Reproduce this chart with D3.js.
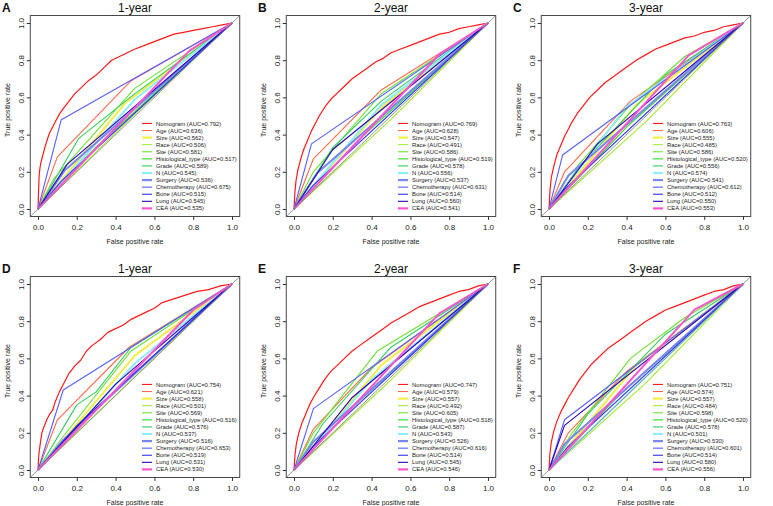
<!DOCTYPE html>
<html><head><meta charset="utf-8">
<script src="https://cdn.jsdelivr.net/npm/d3@7/dist/d3.min.js"></script>
<style>body{margin:0;background:#fff}svg{display:block;font-family:"Liberation Sans",Arial,Helvetica,sans-serif}</style>
</head><body><svg id="c" width="773" height="506"></svg>
<script>
// ---------- data ----------
const panelLetters = ["A","B","C","D","E","F"];
const panelTitles = ["1-year","2-year","3-year","1-year","2-year","3-year"];
const seriesNames = ["Nomogram","Age","Size","Race","Site","Histological_type","Grade","N","Surgery","Chemotherapy","Bone","Lung","CEA"];
const axisTicks = [0,0.2,0.4,0.6,0.8,1.0];

const aucA = [0.792,0.636,0.562,0.506,0.581,0.517,0.589,0.545,0.536,0.675,0.515,0.545,0.535];
const aucB = [0.769,0.628,0.547,0.491,0.586,0.519,0.578,0.556,0.537,0.631,0.514,0.560,0.541];
const aucC = [0.763,0.606,0.555,0.485,0.586,0.520,0.556,0.574,0.541,0.612,0.512,0.550,0.553];
const aucD = [0.754,0.621,0.558,0.501,0.569,0.516,0.576,0.537,0.516,0.653,0.519,0.531,0.530];
const aucE = [0.747,0.579,0.557,0.492,0.605,0.518,0.587,0.543,0.526,0.616,0.514,0.545,0.546];
const aucF = [0.751,0.574,0.557,0.484,0.598,0.520,0.578,0.501,0.530,0.601,0.514,0.580,0.556];

// Nomogram ROC points [FPR, TPR]
const nomoA = [[0,0],[0.003,0.1],[0.006,0.18],[0.01,0.22],[0.015,0.25],[0.025,0.29],[0.035,0.33],[0.05,0.38],[0.06,0.41],[0.075,0.44],[0.09,0.47],[0.11,0.51],[0.13,0.54],[0.16,0.58],[0.19,0.62],[0.22,0.65],[0.26,0.69],[0.3,0.72],[0.34,0.76],[0.38,0.8],[0.42,0.82],[0.46,0.84],[0.5,0.86],[0.55,0.88],[0.6,0.9],[0.65,0.92],[0.7,0.94],[0.75,0.95],[0.8,0.96],[0.85,0.97],[0.9,0.98],[0.95,0.99],[1,1]];
const nomoB = [[0,0],[0.004,0.08],[0.01,0.15],[0.02,0.21],[0.035,0.27],[0.05,0.32],[0.07,0.37],[0.09,0.42],[0.11,0.46],[0.13,0.5],[0.16,0.55],[0.19,0.59],[0.22,0.62],[0.26,0.66],[0.3,0.7],[0.34,0.73],[0.38,0.76],[0.42,0.79],[0.46,0.81],[0.5,0.84],[0.55,0.86],[0.6,0.88],[0.65,0.9],[0.7,0.92],[0.75,0.94],[0.8,0.95],[0.85,0.97],[0.9,0.98],[0.95,0.99],[1,1]];
const nomoC = [[0,0],[0.005,0.1],[0.012,0.17],[0.025,0.23],[0.04,0.29],[0.06,0.34],[0.08,0.39],[0.1,0.43],[0.12,0.47],[0.15,0.52],[0.18,0.56],[0.21,0.6],[0.25,0.64],[0.29,0.68],[0.33,0.71],[0.37,0.74],[0.41,0.77],[0.45,0.8],[0.5,0.83],[0.55,0.86],[0.6,0.88],[0.65,0.9],[0.7,0.92],[0.75,0.93],[0.8,0.95],[0.85,0.96],[0.9,0.98],[0.95,0.99],[1,1]];
const nomoD = [[0,0],[0.004,0.08],[0.01,0.13],[0.02,0.2],[0.03,0.23],[0.045,0.27],[0.06,0.3],[0.075,0.32],[0.09,0.37],[0.11,0.42],[0.13,0.46],[0.16,0.52],[0.19,0.56],[0.22,0.59],[0.25,0.64],[0.28,0.67],[0.32,0.7],[0.36,0.74],[0.4,0.76],[0.44,0.78],[0.48,0.81],[0.52,0.83],[0.56,0.85],[0.6,0.87],[0.64,0.9],[0.7,0.92],[0.76,0.94],[0.82,0.96],[0.88,0.97],[0.94,0.99],[1,1]];
const nomoE = [[0,0],[0.005,0.08],[0.012,0.14],[0.025,0.2],[0.04,0.25],[0.06,0.3],[0.08,0.35],[0.1,0.39],[0.13,0.44],[0.16,0.49],[0.19,0.53],[0.22,0.56],[0.26,0.6],[0.3,0.64],[0.34,0.67],[0.38,0.7],[0.42,0.73],[0.46,0.76],[0.5,0.79],[0.55,0.82],[0.6,0.85],[0.65,0.88],[0.7,0.9],[0.75,0.92],[0.8,0.94],[0.85,0.96],[0.9,0.97],[0.95,0.99],[1,1]];
const nomoF = [[0,0],[0.005,0.09],[0.012,0.15],[0.025,0.21],[0.04,0.26],[0.06,0.31],[0.08,0.35],[0.1,0.39],[0.13,0.44],[0.16,0.49],[0.19,0.53],[0.22,0.57],[0.26,0.61],[0.3,0.65],[0.34,0.68],[0.38,0.71],[0.42,0.74],[0.46,0.77],[0.5,0.8],[0.55,0.83],[0.6,0.86],[0.65,0.88],[0.7,0.9],[0.75,0.92],[0.8,0.94],[0.85,0.96],[0.9,0.97],[0.95,0.99],[1,1]];

// Inner ROC points of the single-variable curves (Age ... CEA); (0,0) and (1,1) are the ROC ends
const knotsA = [[[0.1,0.28],[0.48,0.69]],[[0.45,0.57]],[[0.5,0.512]],[[0.08,0.16],[0.5,0.65]],[[0.3,0.334]],[[0.21,0.38],[0.5,0.62]],[[0.5,0.59]],[[0.14,0.21]],[[0.12,0.48]],[[0.12,0.15]],[[0.15,0.24]],[[0.78,0.85]]];
const knotsB = [[[0.1,0.27],[0.45,0.64]],[[0.45,0.545]],[[0.5,0.482]],[[0.1,0.2],[0.45,0.62]],[[0.35,0.388]],[[0.2,0.33],[0.45,0.58]],[[0.45,0.56]],[[0.12,0.194]],[[0.09,0.35]],[[0.1,0.128]],[[0.2,0.32]],[[0.75,0.832]]];
const knotsC = [[[0.08,0.2],[0.42,0.58]],[[0.45,0.56]],[[0.5,0.47]],[[0.08,0.15],[0.42,0.56],[0.7,0.82]],[[0.4,0.44]],[[0.15,0.22],[0.6,0.72]],[[0.4,0.55]],[[0.1,0.18]],[[0.07,0.29]],[[0.08,0.104]],[[0.25,0.35]],[[0.72,0.826]]];
const knotsD = [[[0.1,0.27],[0.47,0.66]],[[0.5,0.616]],[[0.5,0.502]],[[0.13,0.18],[0.48,0.64]],[[0.3,0.33]],[[0.2,0.35],[0.3,0.42],[0.48,0.66]],[[0.5,0.574]],[[0.13,0.162]],[[0.13,0.43]],[[0.2,0.238]],[[0.4,0.462]],[[0.8,0.86]]];
const knotsE = [[[0.1,0.22],[0.4,0.55]],[[0.45,0.564]],[[0.5,0.484]],[[0.1,0.2],[0.43,0.64]],[[0.3,0.336]],[[0.15,0.25],[0.5,0.66]],[[0.4,0.486]],[[0.1,0.152]],[[0.1,0.33]],[[0.1,0.128]],[[0.3,0.39]],[[0.75,0.842]]];
const knotsF = [[[0.1,0.2],[0.4,0.53]],[[0.45,0.564]],[[0.5,0.468]],[[0.12,0.2],[0.42,0.6],[0.7,0.82]],[[0.35,0.39]],[[0.2,0.3],[0.6,0.73]],[[0.5,0.502]],[[0.08,0.14]],[[0.08,0.27]],[[0.1,0.128]],[[0.08,0.24]],[[0.75,0.862]]];

// ---------- styles ----------
const seriesColors = ["#ff1a1a","#ff6a4a","#f2ee4a","#a6ea38","#6ee034","#22dd22","#30cc60","#8eeefa","#7a86ee","#5560ff","#3030ee","#2a00b8","#ff55cc"];
const seriesWidths = [1.2,1.1,2,1.1,1.1,1.1,1.1,2,2,1.1,1.1,1.1,2];

const aucs = [aucA,aucB,aucC,aucD,aucE,aucF];
const nomos = [nomoA,nomoB,nomoC,nomoD,nomoE,nomoF];
const knots = [knotsA,knotsB,knotsC,knotsD,knotsE,knotsF];
const colX = [0,256,511];
const rowY = [0,261];

const svg = d3.select("#c");
const fmt = d3.format(".1f");
const aucFmt = d3.format(".3f");

for (let p = 0; p < 6; p++) {
  const g = svg.append("g").attr("transform", `translate(${colX[p%3]},${rowY[Math.floor(p/3)]})`);
  const x = d3.scaleLinear().domain([0,1]).range([38,232]);
  const y = d3.scaleLinear().domain([0,1]).range([209,23]);
  const lo = -0.04, hi = 1.04;
  const bx0 = x(lo), bx1 = x(hi), by0 = y(hi), by1 = y(lo);

  const clipId = "clip" + p;
  g.append("clipPath").attr("id", clipId).append("rect")
    .attr("x", bx0).attr("y", by0).attr("width", bx1-bx0).attr("height", by1-by0);

  const line = d3.line().x(d => x(d[0])).y(d => y(d[1]));
  const plot = g.append("g").attr("clip-path", `url(#${clipId})`);

  const curves = [nomos[p]].concat(knots[p].map(k => [[0,0]].concat(k, [[1,1]])));
  curves.forEach((pts, i) => {
    plot.append("path").datum(pts).attr("d", line)
      .attr("fill","none").attr("stroke", seriesColors[i])
      .attr("stroke-width", seriesWidths[i]).attr("stroke-linejoin","round");
  });
  plot.append("path").datum([[lo,lo],[hi,hi]]).attr("d", line)
    .attr("fill","none").attr("stroke","#888").attr("stroke-width",0.9);

  g.append("rect").attr("x", bx0).attr("y", by0).attr("width", bx1-bx0).attr("height", by1-by0)
    .attr("fill","none").attr("stroke","#333").attr("stroke-width",0.9);

  const xa = g.append("g").attr("transform", `translate(0,${by1})`)
    .call(d3.axisBottom(x).tickValues(axisTicks).tickFormat(fmt).tickSize(3.5).tickPadding(4));
  xa.select(".domain").remove();
  xa.selectAll("line").attr("stroke","#333");
  xa.selectAll("text").attr("font-size",8).attr("fill","#222").attr("font-family","Liberation Sans, Arial, sans-serif");

  const ya = g.append("g").attr("transform", `translate(${bx0},0)`)
    .call(d3.axisLeft(y).tickValues(axisTicks).tickFormat(fmt).tickSize(3.5));
  ya.select(".domain").remove();
  ya.selectAll("line").attr("stroke","#333");
  ya.selectAll("text").attr("font-size",8).attr("fill","#222").attr("font-family","Liberation Sans, Arial, sans-serif")
    .attr("transform","rotate(-90)").attr("x",0).attr("y",-6).attr("dy",0).attr("text-anchor","middle");

  g.append("text").attr("x", (bx0+bx1)/2).attr("y", 244).attr("text-anchor","middle")
    .attr("font-size",7).attr("fill","#222").text("False positive rate");
  g.append("text").attr("transform", `translate(10,${(by0+by1)/2 - 6}) rotate(-90)`).attr("text-anchor","middle")
    .attr("font-size",7).attr("fill","#222").text("True positive rate");
  g.append("text").attr("x", (bx0+bx1)/2).attr("y", 12).attr("text-anchor","middle")
    .attr("font-size",12).attr("fill","#111").text(panelTitles[p]);
  g.append("text").attr("x", 2).attr("y", 12).attr("font-size",12).attr("font-weight","bold")
    .attr("fill","#111").text(panelLetters[p]);

  const lg = g.append("g");
  const lx = x(0.536), ly0 = y(0.46), step = 7.08;
  seriesNames.forEach((name, i) => {
    const yy = ly0 + i*step;
    lg.append("line").attr("x1", lx).attr("x2", lx+10).attr("y1", yy).attr("y2", yy)
      .attr("stroke", seriesColors[i]).attr("stroke-width", seriesWidths[i] > 1.5 ? 2.2 : 1.1);
    lg.append("text").attr("x", lx+14).attr("y", yy).attr("dy","0.35em")
      .attr("font-size",5.9).attr("fill","#222")
      .text(`${name} (AUC=${aucFmt(aucs[p][i])})`);
  });
}
</script></body></html>
